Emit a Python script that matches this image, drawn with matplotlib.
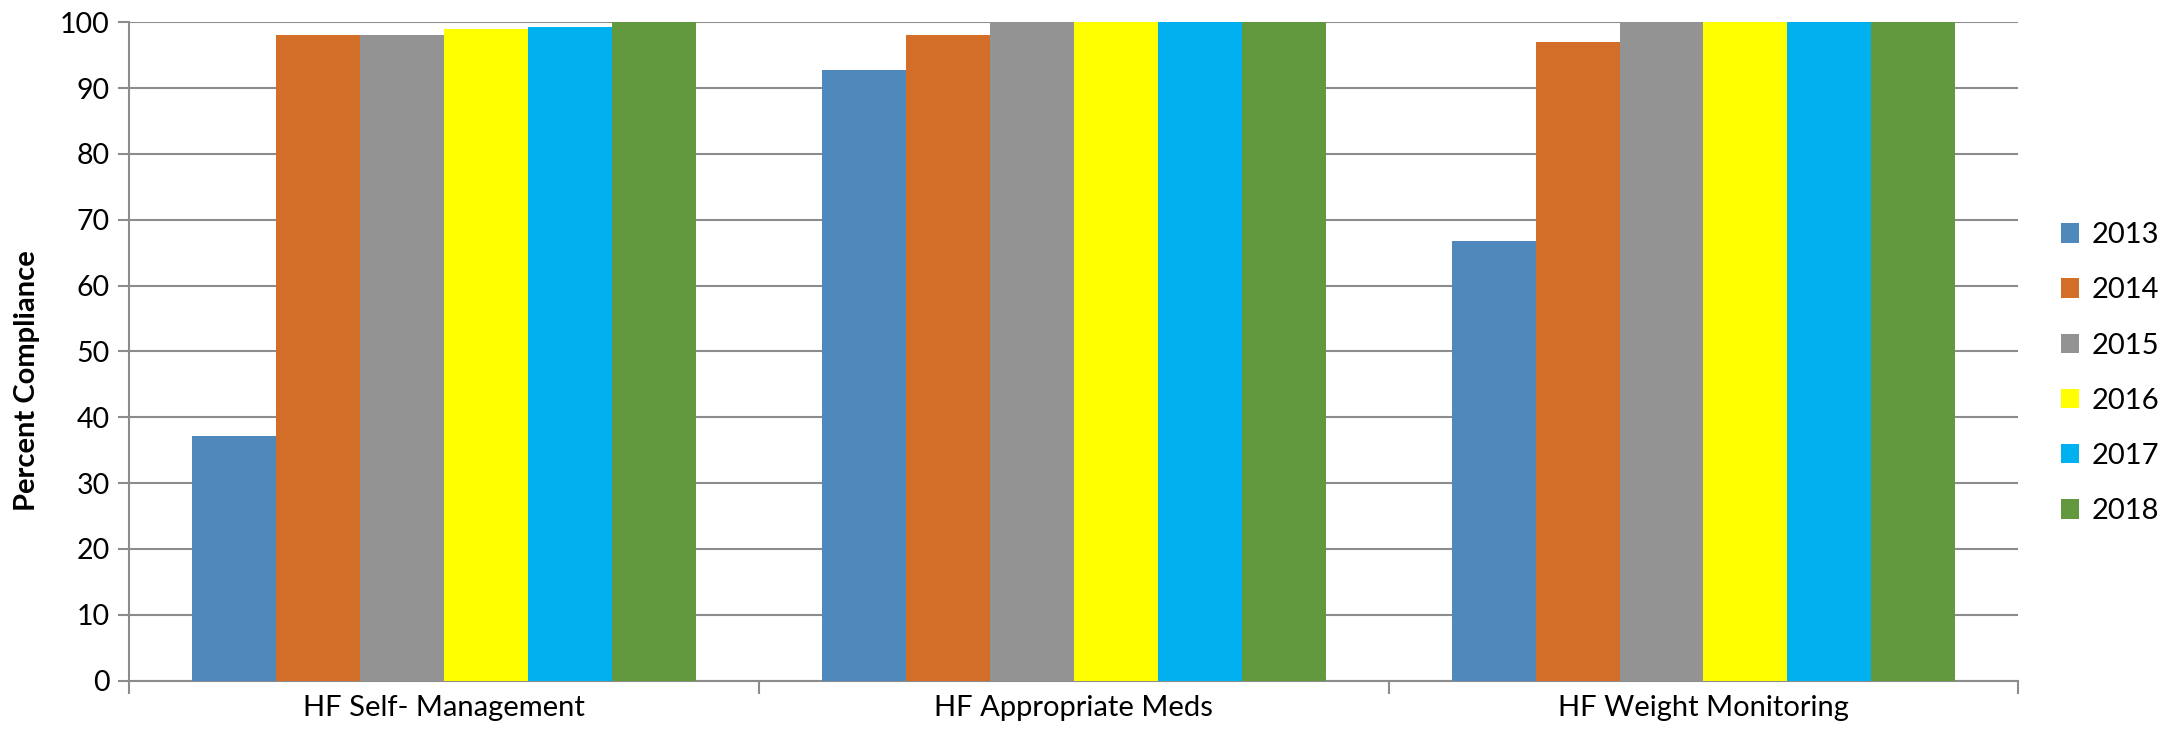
import numpy as np
import matplotlib
matplotlib.use('agg')
import matplotlib.pyplot as plt

plt.rcParams['font.family'] = ['Lato', 'DejaVu Sans']

categories = ['HF Self- Management', 'HF Appropriate Meds', 'HF Weight Monitoring']
years = ['2013', '2014', '2015', '2016', '2017', '2018']
v2013 = [37.2, 92.7, 66.7]
v2014 = [98, 98, 97]
v2015 = [98, 100, 100]
v2016 = [99, 100, 100]
v2017 = [99.2, 100, 100]
v2018 = [100, 100, 100]
series = [v2013, v2014, v2015, v2016, v2017, v2018]
colors = ['#4f88bb', '#d36e29', '#939393', '#ffff00', '#00b0ef', '#62993e']

fig = plt.figure(figsize=(21.78, 7.39), dpi=100)
ax = fig.add_axes([0.0593, 0.079, 0.8674, 0.891])

x = np.arange(len(categories))
w = 1 / 7.5
for i, (vals, c) in enumerate(zip(series, colors)):
    ax.bar(x + (i - 2.5) * w, vals, width=w, color=c, label=years[i], zorder=3)

ax.set_xlim(-0.5, 2.5)
ax.set_ylim(0, 100)
ax.set_yticks(range(0, 101, 10))
ax.yaxis.grid(True, color='#8c8c8c', linewidth=1.5, zorder=0)
ax.set_axisbelow(True)

# category labels sit between boundary ticks
ax.set_xticks([-0.5, 0.5, 1.5, 2.5])
ax.set_xticklabels([])
ax.set_xticks(x, minor=True)
ax.set_xticklabels(categories, minor=True, fontsize=21)
ax.tick_params(axis='x', which='minor', length=0, pad=10)
ax.tick_params(axis='x', which='major', length=9, color='#8c8c8c', width=1.5)
ax.tick_params(axis='y', length=8, color='#8c8c8c', width=1.5, labelsize=20.5, pad=6)

for s in ['top', 'right']:
    ax.spines[s].set_visible(False)
for s in ['left', 'bottom']:
    ax.spines[s].set_color('#8c8c8c')
    ax.spines[s].set_linewidth(1.5)

ax.set_ylabel('Percent Compliance', fontsize=21, fontweight='bold')
ax.yaxis.set_label_coords(-0.047, 0.456)

fig.legend(loc='center left', bbox_to_anchor=(0.934, 0.495), frameon=False,
           fontsize=21, handlelength=0.65, handleheight=0.65, handletextpad=0.4,
           labelspacing=1.0)

fig.savefig('out.png', dpi=100)
